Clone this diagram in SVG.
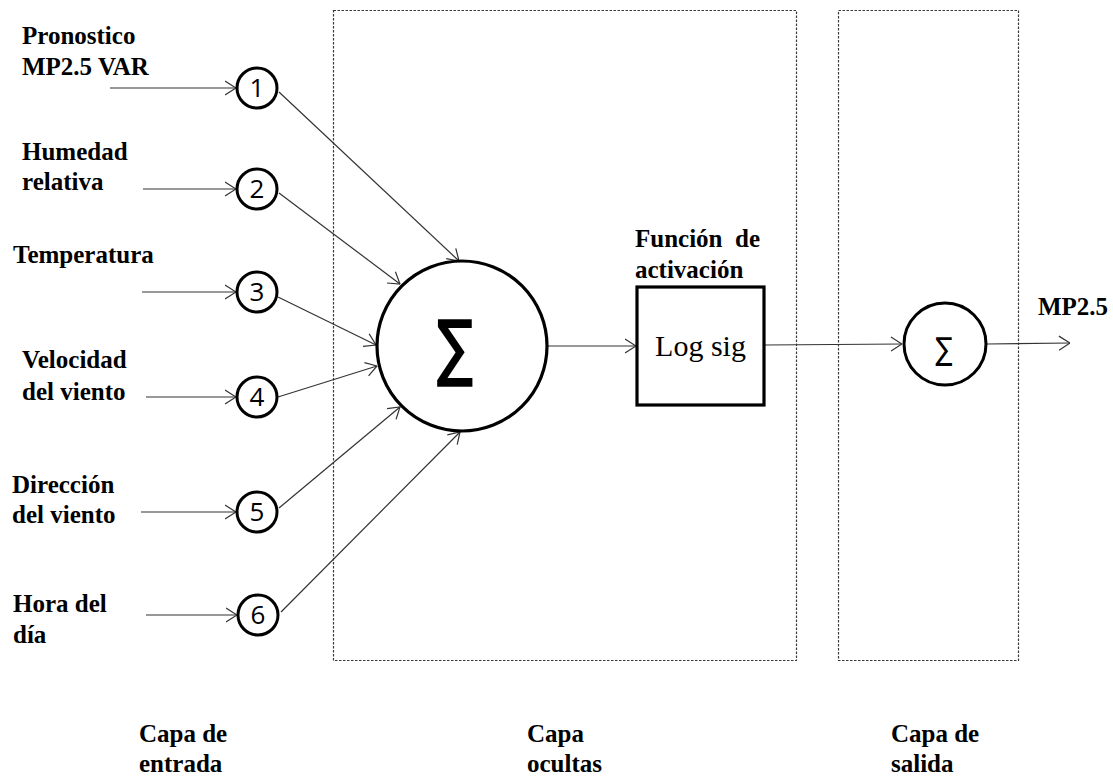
<svg xmlns="http://www.w3.org/2000/svg" width="1113" height="776" viewBox="0 0 1113 776">
  <style>
    .lbl { font-family: "Liberation Serif", "Times New Roman", serif; font-weight: bold; font-size: 25px; fill: #000; }
    .num { font-family: "Open Sans", "DejaVu Sans", sans-serif; font-size: 26px; fill: #000; text-anchor: middle; }
    .sig { font-family: "DejaVu Sans", sans-serif; fill: #000; text-anchor: middle; }
    .node { fill: #fff; stroke: #000; }
    .layer { fill: none; stroke: #3a3a3a; stroke-width: 1.2; stroke-dasharray: 2.5 1.5; }
    .edge { fill: none; stroke: #333; stroke-width: 1.2; marker-end: url(#arrow); }
  </style>
  <defs>
    <marker id="arrow" markerUnits="userSpaceOnUse" viewBox="0 0 12 16" refX="11.5" refY="8" markerWidth="12" markerHeight="16" orient="auto">
      <path d="M0.5,1 L11.5,8 L0.5,15" fill="none" stroke="#333" stroke-width="1.2"/>
    </marker>
  </defs>
  <rect width="1113" height="776" fill="#fff"/>

  <!-- layer frames -->
  <g id="layers">
    <rect class="layer" x="333.5" y="10.5" width="463" height="650"/>
    <rect class="layer" x="838.5" y="10.5" width="180" height="650"/>
  </g>

  <!-- connectors -->
  <g id="connectors">
    <line class="edge" x1="110" y1="88" x2="236" y2="88"/>
    <line class="edge" x1="143" y1="189" x2="236" y2="189"/>
    <line class="edge" x1="142" y1="292" x2="236" y2="292"/>
    <line class="edge" x1="146" y1="397" x2="236" y2="397"/>
    <line class="edge" x1="141" y1="512" x2="236" y2="512"/>
    <line class="edge" x1="146" y1="615" x2="237" y2="615"/>

    <line class="edge" x1="279" y1="92" x2="459" y2="261"/>
    <line class="edge" x1="279" y1="193" x2="400" y2="284"/>
    <line class="edge" x1="278" y1="297" x2="376" y2="345"/>
    <line class="edge" x1="278" y1="397" x2="377" y2="366"/>
    <line class="edge" x1="279" y1="508" x2="400" y2="407"/>
    <line class="edge" x1="281" y1="612" x2="460" y2="432"/>

    <line class="edge" x1="548" y1="346" x2="636" y2="346"/>
    <line class="edge" x1="765" y1="345" x2="902" y2="344"/>
    <line class="edge" x1="987" y1="344" x2="1070" y2="343"/>
  </g>

  <!-- input layer -->
  <g id="in1">
    <text class="lbl" x="22" y="44">Pronostico</text>
    <text class="lbl" x="22" y="75">MP2.5 VAR</text>
    <circle class="node" cx="257" cy="88" r="20" stroke-width="3"/>
    <text class="num" x="257" y="97">1</text>
  </g>
  <g id="in2">
    <text class="lbl" x="22" y="160">Humedad</text>
    <text class="lbl" x="22" y="190">relativa</text>
    <circle class="node" cx="257" cy="189" r="20" stroke-width="3"/>
    <text class="num" x="257" y="198">2</text>
  </g>
  <g id="in3">
    <text class="lbl" x="13" y="263">Temperatura</text>
    <circle class="node" cx="257" cy="292" r="20" stroke-width="3"/>
    <text class="num" x="257" y="301">3</text>
  </g>
  <g id="in4">
    <text class="lbl" x="22" y="368">Velocidad</text>
    <text class="lbl" x="22" y="400">del viento</text>
    <circle class="node" cx="257" cy="397" r="20" stroke-width="3"/>
    <text class="num" x="257" y="406">4</text>
  </g>
  <g id="in5">
    <text class="lbl" x="12" y="493">Dirección</text>
    <text class="lbl" x="12" y="523">del viento</text>
    <circle class="node" cx="257" cy="512" r="20" stroke-width="3"/>
    <text class="num" x="257" y="521">5</text>
  </g>
  <g id="in6">
    <text class="lbl" x="13" y="612">Hora del</text>
    <text class="lbl" x="13" y="643">día</text>
    <circle class="node" cx="258" cy="615" r="20" stroke-width="3"/>
    <text class="num" x="258" y="624">6</text>
  </g>

  <!-- hidden layer -->
  <g id="sum">
    <circle class="node" cx="462" cy="346" r="85" stroke-width="3.2"/>
    <text class="sig" transform="translate(455,372) scale(0.85,1.16)" font-size="62" stroke="#000" stroke-width="1.7">∑</text>
  </g>
  <g id="activation">
    <text class="lbl" x="635" y="247" style="white-space:pre">Función  de</text>
    <text class="lbl" x="635" y="278">activación</text>
    <rect class="node" x="637" y="287" width="127" height="118" stroke-width="3.2"/>
    <text x="700.5" y="356" font-family="Liberation Serif, Times New Roman, serif" font-size="30" text-anchor="middle">Log sig</text>
  </g>

  <!-- output layer -->
  <g id="out">
    <circle class="node" cx="945" cy="344" r="41" stroke-width="3"/>
    <text class="sig" transform="translate(944,360) scale(0.85,1.05)" font-size="30">∑</text>
    <text class="lbl" x="1038" y="315">MP2.5</text>
  </g>

  <!-- layer captions -->
  <g id="captions">
    <text class="lbl" x="139" y="742">Capa de</text>
    <text class="lbl" x="139" y="772">entrada</text>
    <text class="lbl" x="527" y="742">Capa</text>
    <text class="lbl" x="527" y="772">ocultas</text>
    <text class="lbl" x="891" y="742">Capa de</text>
    <text class="lbl" x="891" y="772">salida</text>
  </g>
</svg>
